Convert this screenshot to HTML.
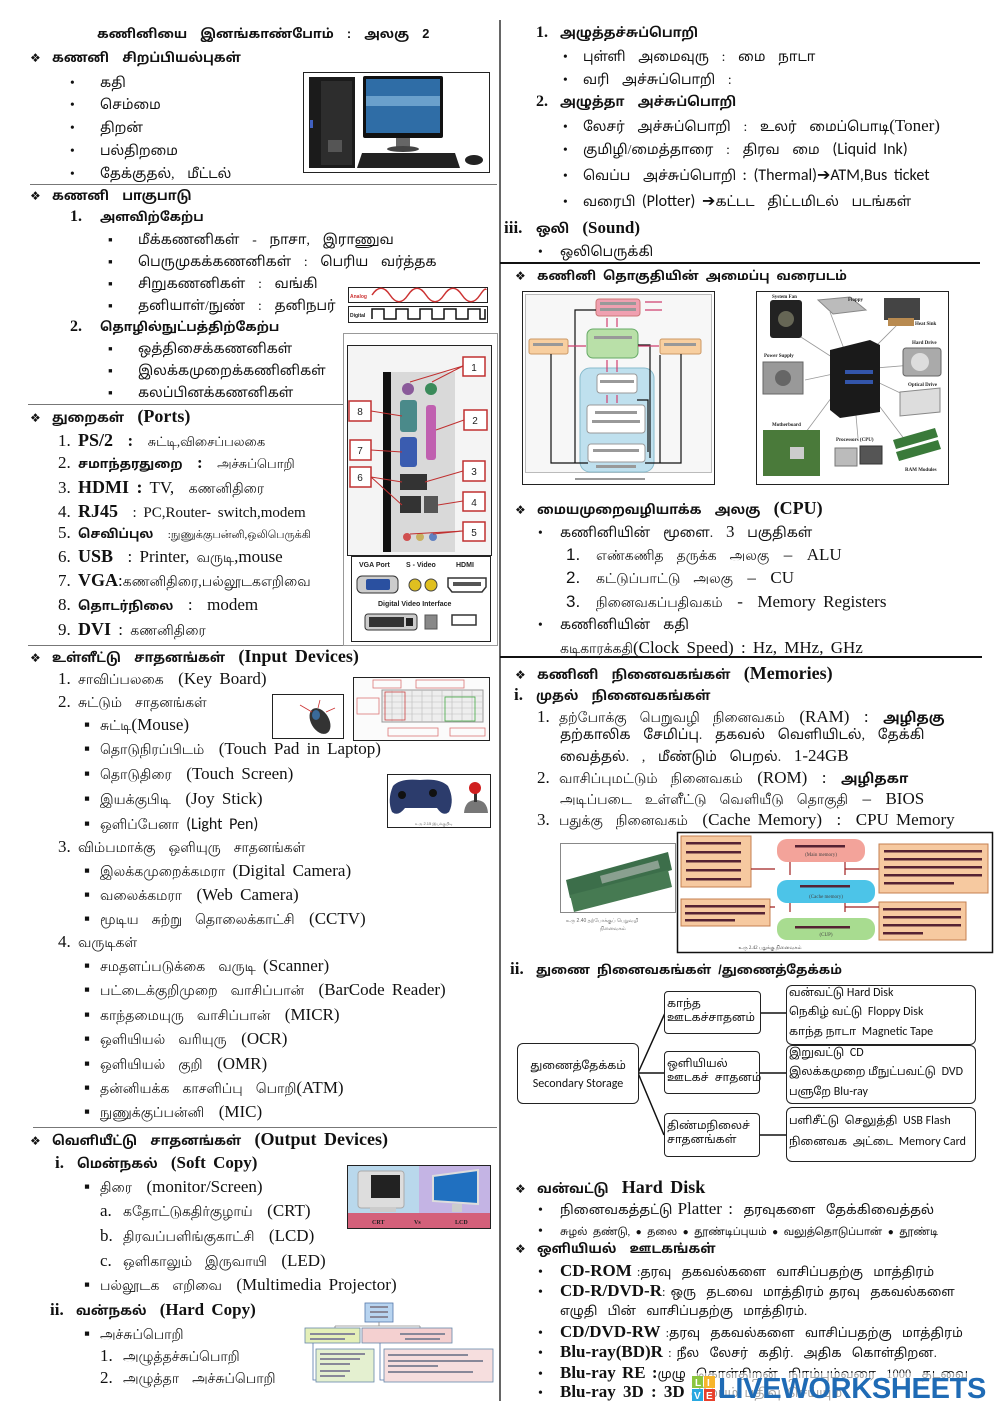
<!DOCTYPE html>
<html><head><meta charset="utf-8">
<style>
*{margin:0;padding:0;box-sizing:border-box}
html,body{width:1000px;height:1414px;background:#fff;overflow:hidden}
body{position:relative;font-family:"Liberation Serif","Latha","Noto Sans Tamil","Lohit Tamil",serif;color:#111}
.t{position:absolute;white-space:nowrap;font-size:13.5px;line-height:18px;word-spacing:3px}
.h{font-family:"Liberation Sans","Latha","Noto Sans Tamil","Lohit Tamil",sans-serif;font-weight:bold;font-size:12.5px}
.e{font-family:"Liberation Serif",serif;font-weight:bold;font-size:18px}
.s{font-family:"Liberation Serif",serif;font-size:17px}
.sb{font-family:"Liberation Serif",serif;font-size:18px;font-weight:bold}
.c{font-family:"Carlito","Liberation Sans",sans-serif;font-size:16px}
.bu{display:inline-block;font-style:normal}
.dg{display:inline-block;width:22px;font-family:"DejaVu Sans",sans-serif;font-size:12px;font-weight:normal}
.w20{width:20px}.w22{width:22px}.w24{width:24px}.w26{width:26px}.w30{width:30px}
.box{position:absolute;border:1.5px solid #222;border-radius:6px;background:#fff;font-family:"Liberation Sans","Latha","Noto Sans Tamil",sans-serif;font-size:11px;line-height:14px;white-space:nowrap}
.rb{position:absolute;left:2px;font-family:"Latha","Noto Sans Tamil","Liberation Sans",sans-serif;font-size:11px;white-space:nowrap}
.rb span{font-family:"Carlito","Liberation Sans",sans-serif;font-size:12px}
</style></head><body>

<svg width="1000" height="1414" style="position:absolute;left:0;top:0">
<line x1="500" y1="20" x2="500" y2="1401" stroke="#333" stroke-width="1.5"/>
<line x1="30" y1="184.5" x2="497" y2="184.5" stroke="#777" stroke-width="1"/>
<line x1="28" y1="404.5" x2="343" y2="404.5" stroke="#777" stroke-width="1"/>
<line x1="28" y1="645.5" x2="497" y2="645.5" stroke="#777" stroke-width="1"/>
<line x1="33" y1="1127.5" x2="497" y2="1127.5" stroke="#777" stroke-width="1"/>
<line x1="500" y1="263" x2="980" y2="263" stroke="#111" stroke-width="2"/>
<line x1="500" y1="657" x2="982" y2="657" stroke="#111" stroke-width="2"/>
<rect x="343.5" y="333.5" width="154" height="312" fill="none" stroke="#999" stroke-width="1"/>

<!-- computer image -->
<rect x="303.5" y="72.5" width="186" height="100" fill="#fff" stroke="#222"/>
<rect x="309" y="77" width="46" height="91" fill="#1b1b1b"/>
<rect x="321" y="81" width="31" height="84" fill="#2d2d2d"/>
<rect x="328" y="140" width="14" height="12" fill="#555"/>
<rect x="310" y="120" width="3" height="8" fill="#4060c0"/>
<rect x="363" y="76" width="80" height="62" rx="2" fill="#111"/>
<rect x="366" y="79" width="74" height="54" fill="#2f6da6"/>
<rect x="366" y="96" width="74" height="10" fill="#6aa0cc"/>
<rect x="396" y="138" width="14" height="10" fill="#666"/>
<ellipse cx="403" cy="149" rx="16" ry="3" fill="#444"/>
<polygon points="362,153 455,153 460,168 357,168" fill="#222"/>
<ellipse cx="474" cy="160" rx="9" ry="5" fill="#222"/>

<!-- analog / digital -->
<rect x="348.5" y="287.5" width="139" height="15" fill="#fff" stroke="#222"/>
<text x="350" y="298" font-size="5" fill="#c33" font-family="Liberation Sans" font-weight="bold">Analog</text>
<path d="M372 295 C378 286,384 286,390 295 S402 304,408 295 S420 286,426 295 S438 304,444 295 S456 286,462 295 S474 304,480 295 S486 290,486 290" fill="none" stroke="#c33" stroke-width="1.5"/>
<rect x="348.5" y="306.5" width="139" height="16" fill="#fff" stroke="#222"/>
<text x="350" y="317" font-size="5" fill="#222" font-family="Liberation Sans" font-weight="bold">Digital</text>
<path d="M372 319 V309 H384 V319 H396 V309 H408 V319 H420 V309 H432 V319 H444 V309 H456 V319 H468 V309 H480 V319 H485 V309" fill="none" stroke="#111" stroke-width="1.5"/>

<!-- ports image -->
<rect x="347.5" y="345.5" width="144" height="210" fill="#f4f4f4" stroke="#222"/>
<rect x="383" y="372" width="8" height="180" fill="#111"/>
<rect x="391" y="372" width="64" height="180" fill="#d9d9d9"/>
<circle cx="408" cy="389" r="6" fill="#8a5a9a"/><circle cx="431" cy="389" r="6" fill="#3a8a5a"/>
<rect x="400" y="400" width="17" height="32" rx="3" fill="#4a8a8a"/>
<rect x="426" y="405" width="10" height="55" rx="3" fill="#c060b0"/>
<rect x="400" y="437" width="17" height="30" rx="3" fill="#3a5cb0"/>
<rect x="400" y="474" width="27" height="16" fill="#333"/>
<rect x="400" y="496" width="21" height="17" fill="#333"/><rect x="424" y="496" width="14" height="17" fill="#555"/>
<circle cx="407" cy="537" r="4" fill="#d05050"/><circle cx="420" cy="537" r="4" fill="#c8b060"/><circle cx="433" cy="537" r="4" fill="#6080c0"/>
<g fill="#fff" stroke="#c03030" stroke-width="1.5">
<rect x="463" y="357" width="22" height="19"/><rect x="349" y="401" width="22" height="20"/><rect x="464" y="410" width="23" height="20"/>
<rect x="350" y="440" width="21" height="20"/><rect x="463" y="461" width="22" height="20"/><rect x="350" y="467" width="21" height="20"/>
<rect x="463" y="492" width="22" height="19"/><rect x="463" y="522" width="22" height="19"/></g>
<g fill="none" stroke="#c03030" stroke-width="1"><path d="M463 366 L410 382 M463 366 L432 382 M371 411 L402 416 M464 420 L436 430 M371 450 L402 452 M463 471 L425 482 M371 477 L402 482 M371 477 L402 505 M463 501 L438 505 M463 531 L410 534 M463 531 L433 534"/></g>
<g font-family="Liberation Sans" font-size="10" fill="#222" text-anchor="middle">
<text x="474" y="371">1</text><text x="360" y="415">8</text><text x="475" y="424">2</text><text x="360" y="454">7</text><text x="474" y="475">3</text><text x="360" y="481">6</text><text x="474" y="506">4</text><text x="474" y="536">5</text></g>

<!-- VGA image -->
<rect x="351.5" y="556.5" width="139" height="85" fill="#fff" stroke="#222"/>
<g font-family="Liberation Sans" font-size="7" font-weight="bold" fill="#222">
<text x="359" y="567">VGA Port</text><text x="406" y="567">S - Video</text><text x="456" y="567">HDMI</text>
<text x="378" y="606">Digital Video Interface</text></g>
<rect x="357" y="576" width="41" height="17" rx="5" fill="#ccc" stroke="#333"/><rect x="366" y="579" width="24" height="11" rx="2" fill="#2a50a0"/>
<circle cx="415" cy="585" r="6" fill="#e0c020" stroke="#444"/><circle cx="431" cy="585" r="6" fill="#e0c020" stroke="#444"/>
<path d="M448 578 H486 V587 L482 592 H452 L448 587 Z" fill="#fff" stroke="#333" stroke-width="1.5"/><rect x="453" y="582" width="28" height="4" fill="#555"/>
<rect x="365" y="614" width="52" height="16" rx="3" fill="#ccc" stroke="#333"/><rect x="369" y="617" width="35" height="10" fill="#333"/><rect x="406" y="618" width="7" height="8" fill="#222"/>
<rect x="425" y="615" width="12" height="14" fill="#888" stroke="#555"/><rect x="452" y="615" width="24" height="10" fill="#fff" stroke="#333" stroke-width="1.5"/>

<!-- mouse image -->
<rect x="272.5" y="694.5" width="71" height="44" fill="#fff" stroke="#222"/>
<ellipse cx="320" cy="721" rx="9" ry="14" fill="#333" transform="rotate(-30 320 721)"/>
<ellipse cx="316" cy="715" rx="4" ry="5" fill="#3a6a9a"/>
<path d="M300 705 L312 712 M320 700 L318 708 M335 708 L326 712" stroke="#c33" stroke-width="0.8" fill="none"/>
<!-- keyboard image -->
<rect x="353.5" y="677.5" width="136" height="63" fill="#fbfbfb" stroke="#222"/>
<rect x="382" y="690" width="101" height="32" fill="#eee" stroke="#999"/>
<g stroke="#bbb" stroke-width="0.6"><path d="M382 696 H483 M382 702 H483 M382 708 H483 M382 714 H483"/><path d="M392 690 V722 M402 690 V722 M412 690 V722 M422 690 V722 M432 690 V722 M442 690 V722 M452 690 V722 M462 690 V722 M472 690 V722"/></g>
<g fill="none" stroke="#d77" stroke-width="0.8"><rect x="373" y="680" width="28" height="8"/><rect x="416" y="680" width="48" height="8"/><rect x="357" y="698" width="22" height="16"/><rect x="388" y="728" width="50" height="8"/><rect x="450" y="728" width="35" height="8"/></g>
<rect x="385" y="692" width="20" height="28" fill="none" stroke="#c44" stroke-width="0.8"/><rect x="445" y="697" width="30" height="24" fill="none" stroke="#4a4" stroke-width="0.8"/>
<!-- joystick -->
<rect x="387.5" y="774.5" width="103" height="53" fill="#fff" stroke="#222"/>
<path d="M393 786 Q400 778 420 780 Q440 778 448 786 Q455 800 449 812 Q443 817 437 808 L405 808 Q398 817 392 812 Q387 800 393 786 Z" fill="#2c3c6c"/>
<circle cx="402" cy="795" r="4" fill="#111"/><circle cx="433" cy="793" r="4" fill="#111"/>
<path d="M464 813 Q465 800 476 800 Q487 800 488 813 Z" fill="#777"/><rect x="474" y="790" width="3" height="12" fill="#333"/><circle cx="475" cy="788" r="6" fill="#d02020"/>
<text x="415" y="825" font-size="4" fill="#666" font-family="Liberation Sans">உரு 2.15 இயக்குபிடி</text>

<!-- CRT vs LCD -->
<rect x="347" y="1165" width="72" height="49" fill="#b9d8ec"/><rect x="419" y="1165" width="72" height="49" fill="#c4b4e4"/>
<rect x="347" y="1213" width="144" height="16" fill="#d4607a"/>
<rect x="347.5" y="1165.5" width="143" height="63" fill="none" stroke="#222"/>
<rect x="358" y="1171" width="46" height="37" rx="3" fill="#ddd" stroke="#aaa"/><rect x="371" y="1175" width="29" height="23" fill="#222"/><rect x="370" y="1207" width="26" height="5" fill="#ccc"/>
<polygon points="433,1176 478,1170 478,1204 433,1201" fill="#2070c0" stroke="#ddd" stroke-width="2"/><rect x="452" y="1204" width="10" height="8" fill="#ccc"/>
<g font-family="Liberation Serif" font-size="6" font-weight="bold" fill="#222"><text x="372" y="1224">CRT</text><text x="414" y="1224">Vs</text><text x="455" y="1224">LCD</text></g>

<!-- printer chart -->
<rect x="365" y="1303" width="28" height="19" fill="#b8d4f0" stroke="#5577aa" stroke-width="0.8"/>
<path d="M379 1322 V1326 M335 1326 H420 M335 1326 V1328 M420 1326 V1328" stroke="#888" stroke-width="0.8" fill="none"/>
<rect x="305" y="1328" width="55" height="15" fill="#e4efb8" stroke="#6688aa" stroke-width="0.8"/>
<rect x="362" y="1328" width="90" height="15" fill="#f4d0d0" stroke="#6688aa" stroke-width="0.8"/>
<path d="M313 1343 V1380 H316 M380 1343 V1380 H384" stroke="#5577aa" stroke-width="0.8" fill="none"/>
<rect x="316" y="1349" width="58" height="33" fill="#e4f0d0" stroke="#6688aa" stroke-width="0.8"/>
<rect x="384" y="1349" width="109" height="33" fill="#f6dede" stroke="#6688aa" stroke-width="0.8"/>
<g fill="#889" ><rect x="320" y="1353" width="45" height="2"/><rect x="320" y="1358" width="40" height="2"/><rect x="320" y="1363" width="30" height="2"/><rect x="320" y="1370" width="30" height="2"/><rect x="320" y="1375" width="25" height="2"/>
<rect x="388" y="1354" width="80" height="2"/><rect x="388" y="1360" width="95" height="2"/><rect x="388" y="1365" width="50" height="2"/><rect x="388" y="1371" width="85" height="2"/>
<rect x="370" y="1306" width="18" height="2"/><rect x="370" y="1311" width="18" height="2"/><rect x="370" y="1316" width="18" height="2"/><rect x="310" y="1333" width="45" height="2"/><rect x="310" y="1338" width="35" height="2"/><rect x="400" y="1333" width="45" height="2"/><rect x="405" y="1338" width="35" height="2"/></g>

<!-- system diagram -->
<rect x="522.5" y="291.5" width="192" height="193" fill="#fff" stroke="#222"/>
<rect x="525.5" y="294.5" width="186" height="178" fill="#f7f7f7" stroke="#bbb"/>
<rect x="580" y="368" width="74" height="104" rx="10" fill="#bfe0ee" stroke="#8bc"/>
<rect x="596" y="299" width="44" height="17" rx="3" fill="#f0a0b0" stroke="#c77"/>
<rect x="587" y="329" width="51" height="29" rx="6" fill="#b9e0a8" stroke="#6a6"/>
<rect x="529" y="339" width="39" height="15" rx="2" fill="#f8cfa0" stroke="#c96"/>
<rect x="660" y="339" width="41" height="15" rx="2" fill="#f8cfa0" stroke="#c96"/>
<rect x="597" y="374" width="40" height="19" rx="3" fill="#fff" stroke="#999"/>
<rect x="587" y="405" width="58" height="28" rx="3" fill="#fff" stroke="#999"/>
<rect x="588" y="444" width="57" height="18" rx="3" fill="#fff" stroke="#999"/>
<g fill="none" stroke="#111" stroke-width="1.2"><path d="M551 354 V463 H588 M681 354 V463 H645 M575 463 V310 H596 M660 463 V355 M650 458 V345 H638 M648 452 V400 H637"/></g>
<g fill="none" stroke="#d04070" stroke-width="1.2"><path d="M607 318 V327 M617 318 V327 M607 360 V372 M617 360 V372 M607 395 V403 M617 395 V403 M568 346 H586 M638 346 H659 M645 302 H662 M645 310 H662"/></g>
<g fill="#999"><rect x="600" y="302" width="36" height="3"/><rect x="600" y="308" width="36" height="3"/><rect x="594" y="336" width="38" height="3"/><rect x="533" y="343" width="30" height="3"/><rect x="664" y="343" width="32" height="3"/><rect x="600" y="380" width="34" height="3"/><rect x="595" y="411" width="42" height="3"/><rect x="592" y="420" width="48" height="3"/><rect x="593" y="449" width="46" height="3"/><rect x="596" y="465" width="40" height="3"/><rect x="575" y="478" width="70" height="2"/></g>

<!-- components image -->
<rect x="756.5" y="291.5" width="192" height="193" fill="#fff" stroke="#222"/>
<g stroke="#999" stroke-width="0.8"><path d="M852 370 L790 330 M852 370 L830 312 M852 370 L900 322 M852 370 L805 380 M852 370 L912 365 M852 370 L915 400 M852 370 L800 440 M852 370 L858 438 M852 370 L905 440"/></g>
<rect x="770" y="300" width="32" height="38" rx="3" fill="#222"/><circle cx="786" cy="319" r="8" fill="#665"/>
<polygon points="818,300 850,297 866,310 833,314" fill="#bbb" stroke="#888"/>
<rect x="884" y="298" width="36" height="22" fill="#444"/><rect x="888" y="318" width="26" height="8" fill="#b88a50"/>
<rect x="763" y="362" width="40" height="32" fill="#999" stroke="#666"/><circle cx="783" cy="378" r="8" fill="#666"/>
<polygon points="830,350 870,340 880,345 880,412 840,418 830,410" fill="#1a1a1a"/><rect x="845" y="370" width="28" height="4" fill="#3355aa"/><rect x="845" y="380" width="28" height="4" fill="#3355aa"/>
<rect x="903" y="348" width="38" height="28" rx="3" fill="#aaa" stroke="#666"/><circle cx="920" cy="362" r="9" fill="#ddd"/>
<polygon points="900,392 940,388 940,412 900,416" fill="#ddd" stroke="#888"/>
<rect x="763" y="430" width="57" height="46" fill="#4a7a3a"/><rect x="790" y="447" width="14" height="12" fill="#ccc"/>
<rect x="835" y="448" width="22" height="18" fill="#bbb" stroke="#777"/><rect x="860" y="446" width="22" height="18" fill="#555" stroke="#333"/>
<polygon points="893,440 935,428 938,437 896,449" fill="#3a7a3a"/><polygon points="896,452 938,440 941,449 899,461" fill="#3a7a3a"/>
<g font-family="Liberation Serif" font-size="5" font-weight="bold" fill="#222"><text x="772" y="298">System Fan</text><text x="848" y="301">Floppy</text><text x="915" y="325">Heat Sink</text><text x="912" y="344">Hard Drive</text><text x="764" y="357">Power Supply</text><text x="908" y="386">Optical Drive</text><text x="772" y="426">Motherboard</text><text x="836" y="441">Processors (CPU)</text><text x="905" y="471">RAM Modules</text></g>

<!-- RAM image -->
<rect x="560.5" y="843.5" width="115" height="69" fill="#fff" stroke="#888"/>
<polygon points="566,880 668,852 672,870 570,898" fill="#3c6e4a"/><polygon points="570,895 668,870 672,887 574,912" fill="#467a52"/>
<rect x="600" y="868" width="60" height="8" fill="#8aa090" transform="rotate(-15 630 872)"/>
<text x="566" y="922" font-size="5" fill="#666" font-family="Liberation Sans">உரு 2.40 தற்போக்குப் பெறுவழி</text>
<text x="600" y="930" font-size="5" fill="#666" font-family="Liberation Sans">நினைவகம்</text>

<!-- cache diagram -->
<rect x="677.5" y="832.5" width="315" height="120" fill="#fff" stroke="#111" stroke-width="1.5"/>
<g fill="#f6c9a0" stroke="#c58050"><rect x="681" y="836" width="70" height="51"/><rect x="879" y="844" width="109" height="49"/><rect x="681" y="899" width="89" height="27"/><rect x="879" y="902" width="87" height="38"/></g>
<rect x="777" y="839" width="88" height="23" rx="10" fill="#f3a39a"/>
<rect x="777" y="880" width="98" height="23" rx="10" fill="#4cc4e8"/>
<rect x="777" y="918" width="98" height="22" rx="10" fill="#a8dc90"/>
<g fill="none" stroke="#a02020" stroke-width="1.2"><path d="M751 869 H775 M879 869 H845 M770 907 H775 M879 907 H845 M790 875 V862 M845 862 V875 M790 912 V903 M845 903 V912"/></g>
<g fill="#523"><rect x="686" y="842" width="55" height="2.5"/><rect x="686" y="851" width="55" height="2.5"/><rect x="686" y="860" width="55" height="2.5"/><rect x="686" y="869" width="55" height="2.5"/><rect x="686" y="878" width="55" height="2.5"/>
<rect x="884" y="850" width="98" height="2.5"/><rect x="884" y="858" width="98" height="2.5"/><rect x="884" y="866" width="98" height="2.5"/><rect x="884" y="874" width="98" height="2.5"/><rect x="884" y="882" width="70" height="2.5"/>
<rect x="685" y="905" width="80" height="2.5"/><rect x="685" y="912" width="80" height="2.5"/><rect x="685" y="919" width="50" height="2.5"/>
<rect x="883" y="908" width="78" height="2.5"/><rect x="883" y="916" width="78" height="2.5"/><rect x="883" y="924" width="78" height="2.5"/><rect x="883" y="932" width="40" height="2.5"/>
<rect x="795" y="845" width="50" height="2.5"/><rect x="800" y="885" width="50" height="2.5"/><rect x="795" y="926" width="55" height="2.5"/></g>
<g font-family="Liberation Serif" font-size="5" fill="#444" text-anchor="middle"><text x="821" y="856">(Main memory)</text><text x="826" y="898">(Cache memory)</text><text x="826" y="936">(CUP)</text><text x="770" y="949">உரு 2.42 பதுக்கு நினைவகம்</text></g>

<!-- flowchart connectors -->
<g stroke="#111" stroke-width="1.5" fill="none">
<path d="M638 1073 L665 1013 M638 1073 L664 1073 M638 1073 L664 1135 M761 1013 L786 1013 M759 1073 L786 1073 M759 1135 L786 1135"/>
</g>
</svg>

<!-- LEFT COLUMN -->
<div class="t h" style="top:25px;left:97px;font-size:12.8px">கணினியை&nbsp; இனங்காண்போம்&nbsp; :&nbsp; அலகு&nbsp; 2</div>
<div class="t h" style="top:49px;left:30px;font-size:13px"><span class="dg">❖</span>கணனி&nbsp; சிறப்பியல்புகள்</div>
<div class="t" style="top:74px;left:70px"><i class="bu w30">•</i>கதி</div>
<div class="t" style="top:96px;left:70px"><i class="bu w30">•</i>செம்மை</div>
<div class="t" style="top:119px;left:70px"><i class="bu w30">•</i>திறன்</div>
<div class="t" style="top:142px;left:70px"><i class="bu w30">•</i>பல்திறமை</div>
<div class="t" style="top:165px;left:70px"><i class="bu w30">•</i>தேக்குதல்,&nbsp; மீட்டல்</div>
<div class="t h" style="top:187px;left:30px;font-size:13px"><span class="dg">❖</span>கணனி&nbsp; பாகுபாடு</div>
<div class="t h" style="top:208px;left:70px"><i class="bu w30"><span class="sb" style="font-size:16px">1.</span></i>அளவிற்கேற்ப</div>
<div class="t" style="top:231px;left:108px"><i class="bu w30">▪</i>மீக்கணனிகள்&nbsp; -&nbsp; நாசா,&nbsp; இராணுவ</div>
<div class="t" style="top:253px;left:108px"><i class="bu w30">▪</i>பெருமுகக்கணனிகள்&nbsp; :&nbsp; பெரிய&nbsp; வர்த்தக</div>
<div class="t" style="top:275px;left:108px"><i class="bu w30">▪</i>சிறுகணனிகள்&nbsp; :&nbsp; வங்கி</div>
<div class="t" style="top:297px;left:108px"><i class="bu w30">▪</i>தனியாள்/நுண்&nbsp; :&nbsp; தனிநபர்</div>
<div class="t h" style="top:318px;left:70px"><i class="bu w30"><span class="sb" style="font-size:16px">2.</span></i>தொழில்நுட்பத்திற்கேற்ப</div>
<div class="t" style="top:340px;left:108px"><i class="bu w30">▪</i>ஒத்திசைக்கணனிகள்</div>
<div class="t" style="top:362px;left:108px"><i class="bu w30">▪</i>இலக்கமுறைக்கணினிகள்</div>
<div class="t" style="top:384px;left:108px"><i class="bu w30">▪</i>கலப்பினக்கணனிகள்</div>

<div class="t h" style="top:407px;left:30px;font-size:13px"><span class="dg">❖</span>துறைகள்&nbsp; <span class="e">(Ports)</span></div>
<div class="t s" style="top:431px;left:58px"><i class="bu w20">1.</i><b class="sb">PS/2</b>&nbsp; <b>:</b>&nbsp; <span style="font-size:13px">சுட்டி,விசைப்பலகை</span></div>
<div class="t s" style="top:454px;left:58px"><i class="bu w20">2.</i><b class="h">சமாந்தரதுறை</b>&nbsp; <b>:</b>&nbsp; <span style="font-size:13px">அச்சுப்பொறி</span></div>
<div class="t s" style="top:478px;left:58px"><i class="bu w20">3.</i><b class="sb">HDMI :</b> TV,&nbsp; <span style="font-size:14px">கணனிதிரை</span></div>
<div class="t s" style="top:502px;left:58px"><i class="bu w20">4.</i><b class="sb">RJ45</b>&nbsp; <span style="font-size:15px">: PC,Router- switch,modem</span></div>
<div class="t s" style="top:524px;left:58px"><i class="bu w20">5.</i><b class="h">செவிப்புல</b>&nbsp; <span style="font-size:11px">:நுணுக்குபன்னி,ஒலிபெருக்கி</span></div>
<div class="t s" style="top:547px;left:58px"><i class="bu w20">6.</i><b class="sb">USB</b>&nbsp; : Printer, <span style="font-size:14px">வருடி</span>,mouse</div>
<div class="t s" style="top:571px;left:58px"><i class="bu w20">7.</i><b class="sb">VGA</b>:<span style="font-size:14px">கணனிதிரை,பல்லூடகஎறிவை</span></div>
<div class="t s" style="top:596px;left:58px"><i class="bu w20">8.</i><b class="h">தொடர்நிலை</b>&nbsp; :&nbsp; modem</div>
<div class="t s" style="top:620px;left:58px"><i class="bu w20">9.</i><b class="sb">DVI</b> : <span style="font-size:14px">கணனிதிரை</span></div>

<div class="t h" style="top:647px;left:30px;font-size:13px"><span class="dg">❖</span>உள்ளீட்டு&nbsp; சாதனங்கள்&nbsp; <span class="e">(Input Devices)</span></div>
<div class="t s" style="top:670px;left:58px"><i class="bu w20">1.</i><span style="font-size:14px">சாவிப்பலகை</span>&nbsp; (Key Board)</div>
<div class="t s" style="top:693px;left:58px"><i class="bu w20">2.</i><span style="font-size:14px">சுட்டும்&nbsp; சாதனங்கள்</span></div>
<div class="t s" style="top:716px;left:84px"><i class="bu" style="width:16px">▪</i><span style="font-size:14px">சுட்டி</span>(Mouse)</div>
<div class="t s" style="top:740px;left:84px"><i class="bu" style="width:16px">▪</i><span style="font-size:14px">தொடுநிரப்பிடம்</span>&nbsp; (Touch Pad in Laptop)</div>
<div class="t s" style="top:765px;left:84px"><i class="bu" style="width:16px">▪</i><span style="font-size:14px">தொடுதிரை</span>&nbsp; (Touch Screen)</div>
<div class="t s" style="top:790px;left:84px"><i class="bu" style="width:16px">▪</i><span style="font-size:14px">இயக்குபிடி</span>&nbsp; (Joy Stick)</div>
<div class="t s" style="top:815px;left:84px"><i class="bu" style="width:16px">▪</i><span style="font-size:14px">ஒளிப்பேனா</span> <span class="c">(Light Pen)</span></div>
<div class="t s" style="top:838px;left:58px"><i class="bu w20">3.</i><span style="font-size:14px">விம்பமாக்கு&nbsp; ஒளியுரு&nbsp; சாதனங்கள்</span></div>
<div class="t s" style="top:862px;left:84px"><i class="bu" style="width:16px">▪</i><span style="font-size:14px">இலக்கமுறைக்கமரா</span> (Digital Camera)</div>
<div class="t s" style="top:886px;left:84px"><i class="bu" style="width:16px">▪</i><span style="font-size:14px">வலைக்கமரா</span>&nbsp; (Web Camera)</div>
<div class="t s" style="top:910px;left:84px"><i class="bu" style="width:16px">▪</i><span style="font-size:14px">மூடிய&nbsp; சுற்று&nbsp; தொலைக்காட்சி</span>&nbsp; (CCTV)</div>
<div class="t s" style="top:933px;left:58px"><i class="bu w20">4.</i><span style="font-size:14px">வருடிகள்</span></div>
<div class="t s" style="top:957px;left:84px"><i class="bu" style="width:16px">▪</i><span style="font-size:14px">சமதளப்படுக்கை&nbsp; வருடி</span> (Scanner)</div>
<div class="t s" style="top:981px;left:84px"><i class="bu" style="width:16px">▪</i><span style="font-size:14px">பட்டைக்குறிமுறை&nbsp; வாசிப்பான்</span>&nbsp; (BarCode Reader)</div>
<div class="t s" style="top:1006px;left:84px"><i class="bu" style="width:16px">▪</i><span style="font-size:14px">காந்தமையுரு&nbsp; வாசிப்பான்</span>&nbsp; (MICR)</div>
<div class="t s" style="top:1030px;left:84px"><i class="bu" style="width:16px">▪</i><span style="font-size:14px">ஒளியியல்&nbsp; வரியுரு</span>&nbsp; (OCR)</div>
<div class="t s" style="top:1055px;left:84px"><i class="bu" style="width:16px">▪</i><span style="font-size:14px">ஒளியியல்&nbsp; குறி</span>&nbsp; (OMR)</div>
<div class="t s" style="top:1079px;left:84px"><i class="bu" style="width:16px">▪</i><span style="font-size:14px">தன்னியக்க&nbsp; காசளிப்பு&nbsp; பொறி</span>(ATM)</div>
<div class="t s" style="top:1103px;left:84px"><i class="bu" style="width:16px">▪</i><span style="font-size:14px">நுணுக்குப்பன்னி</span>&nbsp; (MIC)</div>

<div class="t h" style="top:1130px;left:30px;font-size:13px"><span class="dg">❖</span>வெளியீட்டு&nbsp; சாதனங்கள்&nbsp; <span class="e">(Output Devices)</span></div>
<div class="t h" style="top:1154px;left:55px;font-size:13px"><i class="bu w22"><span class="sb" style="font-size:17px">i.</span></i>மென்நகல்&nbsp; <span class="e" style="font-size:17px">(Soft Copy)</span></div>
<div class="t s" style="top:1178px;left:84px"><i class="bu" style="width:16px">▪</i><span style="font-size:14px">திரை</span>&nbsp; (monitor/Screen)</div>
<div class="t s" style="top:1202px;left:100px"><i class="bu" style="width:23px">a.</i><span style="font-size:14px">கதோட்டுகதிர்குழாய்</span>&nbsp; (CRT)</div>
<div class="t s" style="top:1227px;left:100px"><i class="bu" style="width:23px">b.</i><span style="font-size:14px">திரவப்பளிங்குகாட்சி</span>&nbsp; (LCD)</div>
<div class="t s" style="top:1252px;left:100px"><i class="bu" style="width:23px">c.</i><span style="font-size:14px">ஒளிகாலும்&nbsp; இருவாயி</span>&nbsp; (LED)</div>
<div class="t s" style="top:1276px;left:84px"><i class="bu" style="width:16px">▪</i><span style="font-size:14px">பல்லூடக&nbsp; எறிவை</span>&nbsp; (Multimedia Projector)</div>
<div class="t h" style="top:1301px;left:50px;font-size:13px"><i class="bu w26"><span class="sb" style="font-size:17px">ii.</span></i>வன்நகல்&nbsp; <span class="e" style="font-size:17px">(Hard Copy)</span></div>
<div class="t s" style="top:1325px;left:84px"><i class="bu" style="width:16px">▪</i><span style="font-size:14px">அச்சுப்பொறி</span></div>
<div class="t s" style="top:1347px;left:100px"><i class="bu" style="width:23px">1.</i><span style="font-size:14px">அழுத்தச்சுப்பொறி</span></div>
<div class="t s" style="top:1369px;left:100px"><i class="bu" style="width:23px">2.</i><span style="font-size:14px">அழுத்தா&nbsp; அச்சுப்பொறி</span></div>

<!-- RIGHT COLUMN -->
<div class="t h" style="top:24px;left:536px;font-size:13px"><i class="bu w24"><span class="sb" style="font-size:16px">1.</span></i>அழுத்தச்சுப்பொறி</div>
<div class="t" style="top:48px;left:563px;font-size:13.5px"><i class="bu w20">•</i>புள்ளி&nbsp; அமைவுரு&nbsp; :&nbsp; மை&nbsp; நாடா</div>
<div class="t" style="top:71px;left:563px;font-size:13.5px"><i class="bu w20">•</i>வரி&nbsp; அச்சுப்பொறி&nbsp; :</div>
<div class="t h" style="top:93px;left:536px;font-size:13px"><i class="bu w24"><span class="sb" style="font-size:16px">2.</span></i>அழுத்தா&nbsp; அச்சுப்பொறி</div>
<div class="t" style="top:117px;left:563px;font-size:13.5px"><i class="bu w20">•</i>லேசர்&nbsp; அச்சுப்பொறி&nbsp; :&nbsp; உலர்&nbsp; மைப்பொடி<span class="s">(Toner)</span></div>
<div class="t" style="top:141px;left:563px;font-size:13.5px"><i class="bu w20">•</i>குமிழி/மைத்தாரை&nbsp; :&nbsp; திரவ&nbsp; மை&nbsp; <span class="c">(Liquid Ink)</span></div>
<div class="t" style="top:167px;left:563px;font-size:13.5px"><i class="bu w20">•</i>வெப்ப&nbsp; அச்சுப்பொறி <span class="c">: (Thermal)➔ATM,Bus ticket</span></div>
<div class="t" style="top:193px;left:563px;font-size:13.5px"><i class="bu w20">•</i>வரைபி <span class="c">(Plotter) ➔</span>கட்டட&nbsp; திட்டமிடல்&nbsp; படங்கள்</div>
<div class="t h" style="top:219px;left:504px;font-size:13px"><i class="bu" style="width:32px"><span class="sb" style="font-size:17px">iii.</span></i>ஒலி&nbsp; <span class="e" style="font-size:17px">(Sound)</span></div>
<div class="t" style="top:243px;left:538px;font-size:13.5px"><i class="bu w22">•</i>ஒலிபெருக்கி</div>
<div class="t h" style="top:267px;left:515px;word-spacing:0"><span class="dg">❖</span>கணினி&nbsp; தொகுதியின்&nbsp; அமைப்பு&nbsp; வரைபடம்</div>

<div class="t h" style="top:499px;left:515px;font-size:13px"><span class="dg">❖</span>மையமுறைவழியாக்க&nbsp; அலகு&nbsp; <span class="e">(CPU)</span></div>
<div class="t" style="top:523px;left:538px;font-size:13.5px"><i class="bu w22">•</i>கணினியின்&nbsp; மூளை.&nbsp; <span class="s">3</span>&nbsp; பகுதிகள்</div>
<div class="t s" style="top:546px;left:566px"><i class="bu w30" style="font-family:'Liberation Sans'">1.</i><span style="font-size:14px">எண்கணித&nbsp; தருக்க&nbsp; அலகு</span>&nbsp; –&nbsp; ALU</div>
<div class="t s" style="top:569px;left:566px"><i class="bu w30" style="font-family:'Liberation Sans'">2.</i><span style="font-size:14px">கட்டுப்பாட்டு&nbsp; அலகு</span>&nbsp; –&nbsp; CU</div>
<div class="t s" style="top:593px;left:566px"><i class="bu w30" style="font-family:'Liberation Sans'">3.</i><span style="font-size:14px">நினைவகப்பதிவகம்</span>&nbsp; -&nbsp; Memory Registers</div>
<div class="t" style="top:616px;left:538px;font-size:13.5px"><i class="bu w22">•</i>கணினியின்&nbsp; கதி</div>
<div class="t s" style="top:639px;left:560px"><span style="font-size:14px">கடிகாரக்கதி</span>(Clock Speed) : Hz, MHz, GHz</div>

<div class="t h" style="top:664px;left:515px;font-size:13px"><span class="dg">❖</span>கணினி&nbsp; நினைவகங்கள்&nbsp; <span class="e">(Memories)</span></div>
<div class="t h" style="top:686px;left:514px;font-size:13px"><i class="bu w22"><span class="sb" style="font-size:17px">i.</span></i>முதல்&nbsp; நினைவகங்கள்</div>
<div class="t s" style="top:708px;left:537px"><i class="bu w22">1.</i><span style="font-size:14px">தற்போக்கு&nbsp; பெறுவழி&nbsp; நினைவகம்</span>&nbsp; (RAM)&nbsp; :&nbsp; <b class="h" style="font-size:13.5px">அழிதகு</b></div>
<div class="t" style="top:726px;left:560px;font-size:13.5px">தற்காலிக&nbsp; சேமிப்பு.&nbsp; தகவல்&nbsp; வெளியிடல்,&nbsp; தேக்கி</div>
<div class="t" style="top:747px;left:560px;font-size:13.5px">வைத்தல்.&nbsp; ,&nbsp; மீண்டும்&nbsp; பெறல்.&nbsp; <span class="s">1-24GB</span></div>
<div class="t s" style="top:769px;left:537px"><i class="bu w22">2.</i><span style="font-size:14px">வாசிப்புமட்டும்&nbsp; நினைவகம்</span>&nbsp; (ROM)&nbsp; :&nbsp; <b class="h" style="font-size:13.5px">அழிதகா</b></div>
<div class="t s" style="top:790px;left:560px"><span style="font-size:14px">அடிப்படை&nbsp; உள்ளீட்டு&nbsp; வெளியீடு&nbsp; தொகுதி</span>&nbsp; –&nbsp; BIOS</div>
<div class="t s" style="top:811px;left:537px"><i class="bu w22">3.</i><span style="font-size:14px">பதுக்கு&nbsp; நினைவகம்</span>&nbsp; (Cache Memory)&nbsp; :&nbsp; CPU Memory</div>

<div class="t h" style="top:960px;left:510px;font-size:12.5px;word-spacing:0"><i class="bu w26"><span class="sb" style="font-size:17px">ii.</span></i>துணை&nbsp; நினைவகங்கள்&nbsp; /துணைத்தேக்கம்</div>

<!-- flowchart boxes -->
<div class="box" style="left:517px;top:1043px;width:122px;height:61px;text-align:center;padding-top:13px;font-size:11px;line-height:18px">துணைத்தேக்கம்<br><span style="font-family:'Carlito','Liberation Sans',sans-serif;font-size:12px">Secondary Storage</span></div>
<div class="box" style="left:664px;top:991px;width:97px;height:43px;padding:5px 2px;border-radius:4px">காந்த<br>ஊடகச்சாதனம்</div>
<div class="box" style="left:664px;top:1051px;width:96px;height:43px;padding:5px 2px;border-radius:4px">ஒளியியல்<br>ஊடகச் &nbsp;சாதனம்</div>
<div class="box" style="left:664px;top:1113px;width:96px;height:44px;padding:5px 2px;border-radius:4px">திண்மநிலைச்<br>சாதனங்கள்</div>
<div class="box" style="left:786px;top:985px;width:190px;height:60px">
<div class="rb" style="top:0">வன்வட்டு <span>Hard Disk</span></div><div class="rb" style="top:19px">நெகிழ் வட்டு&nbsp; <span>Floppy Disk</span></div><div class="rb" style="top:39px">காந்த நாடா&nbsp; <span>Magnetic Tape</span></div></div>
<div class="box" style="left:786px;top:1045px;width:190px;height:59px">
<div class="rb" style="top:0">இறுவட்டு&nbsp; <span>CD</span></div><div class="rb" style="top:19px">இலக்கமுறை மீநுட்பவட்டு&nbsp; <span>DVD</span></div><div class="rb" style="top:39px">பளுறே <span>Blu-ray</span></div></div>
<div class="box" style="left:786px;top:1107px;width:190px;height:55px">
<div class="rb" style="top:6px">பளிசீட்டு&nbsp; செலுத்தி&nbsp; <span>USB Flash</span></div><div class="rb" style="top:27px">நினைவக&nbsp; அட்டை&nbsp; <span>Memory Card</span></div></div>

<div class="t h" style="top:1178px;left:515px;font-size:13px"><span class="dg">❖</span>வன்வட்டு&nbsp; <span class="e">Hard Disk</span></div>
<div class="t" style="top:1200px;left:538px;font-size:13px;word-spacing:2px"><i class="bu w22" style="font-size:14px">•</i>நினைவகத்தட்டு <span class="s">Platter :</span>&nbsp; தரவுகளை&nbsp; தேக்கிவைத்தல்</div>
<div class="t" style="top:1223px;left:538px;font-size:10px"><i class="bu w22" style="font-size:14px">•</i>சுழல் தண்டு, ● தலை ● தூண்டிப்புயம் ● வலுத்தொடுப்பான் ● தூண்டி</div>
<div class="t h" style="top:1240px;left:515px;font-size:13px"><span class="dg">❖</span>ஒளியியல்&nbsp; ஊடகங்கள்</div>
<div class="t" style="top:1262px;left:538px;font-size:12.5px;word-spacing:2px"><i class="bu w22" style="font-size:14px">•</i><b class="sb" style="font-size:17px">CD-ROM</b> :தரவு&nbsp; தகவல்களை&nbsp; வாசிப்பதற்கு&nbsp; மாத்திரம்</div>
<div class="t" style="top:1282px;left:538px;font-size:12.5px;word-spacing:2px"><i class="bu w22" style="font-size:14px">•</i><b class="sb" style="font-size:17px">CD-R/DVD-R</b>: ஒரு&nbsp; தடவை&nbsp; மாத்திரம் தரவு&nbsp; தகவல்களை</div>
<div class="t" style="top:1302px;left:560px;font-size:12.5px;word-spacing:2px">எழுதி&nbsp; பின்&nbsp; வாசிப்பதற்கு&nbsp; மாத்திரம்.</div>
<div class="t" style="top:1323px;left:538px;font-size:12.5px;word-spacing:2px"><i class="bu w22" style="font-size:14px">•</i><b class="sb" style="font-size:17px">CD/DVD-RW</b> :தரவு&nbsp; தகவல்களை&nbsp; வாசிப்பதற்கு&nbsp; மாத்திரம்</div>
<div class="t" style="top:1343px;left:538px;font-size:12.5px;word-spacing:2px"><i class="bu w22" style="font-size:14px">•</i><b class="sb" style="font-size:17px">Blu-ray(BD)R</b> : நீல&nbsp; லேசர்&nbsp; கதிர்.&nbsp; அதிக&nbsp; கொள்திறன.</div>
<div class="t" style="top:1364px;left:538px;font-size:12.5px;word-spacing:2px"><i class="bu w22" style="font-size:14px">•</i><b class="sb" style="font-size:17px">Blu-ray RE :</b>முழு&nbsp; கொள்திறன்&nbsp; நிரம்பும்வரை&nbsp; 1000&nbsp; தடவை</div>
<div class="t" style="top:1383px;left:538px;font-size:12.5px"><i class="bu w22" style="font-size:14px">•</i><b class="sb" style="font-size:17px">Blu-ray 3D : 3D</b> விம்பம் பதிவு செய்யும்</div>

<!-- logo -->
<div style="position:absolute;left:690px;top:1373px;width:300px;height:32px;background:rgba(255,255,255,0.6)"></div>
<svg width="30" height="30" style="position:absolute;left:692px;top:1375px">
<rect x="0" y="1" width="11" height="12" fill="#8cc63f"/><rect x="12" y="1" width="11" height="12" fill="#f7b52c"/>
<rect x="0" y="14" width="11" height="12" fill="#29a8e0"/><rect x="12" y="14" width="11" height="12" fill="#e8412c"/>
<g font-family="Liberation Sans" font-size="10" font-weight="bold" fill="#fff"><text x="3" y="11">L</text><text x="15" y="11">I</text><text x="2" y="24">V</text><text x="14" y="24">E</text></g></svg>
<div style="position:absolute;left:718px;top:1372px;font-family:'Liberation Sans',sans-serif;font-weight:bold;font-size:29px;line-height:34px;color:#1f6bb5;white-space:nowrap;letter-spacing:-0.3px">LIVEWORKSHEETS</div>
</body></html>
